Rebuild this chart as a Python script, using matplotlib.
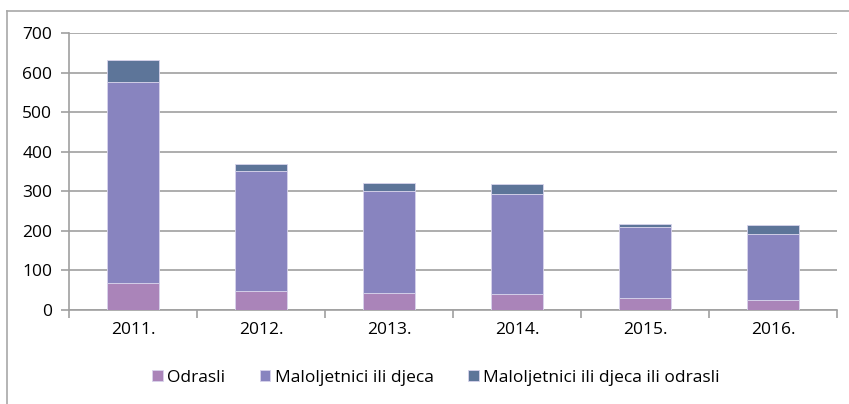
import matplotlib.pyplot as plt
import numpy as np
from matplotlib.lines import Line2D

years = ["2011.", "2012.", "2013.", "2014.", "2015.", "2016."]
odrasli = [68, 48, 43, 41, 31, 26]
maloljetnici = [508, 303, 257, 251, 180, 167]
mal_ili_odrasli = [57, 18, 21, 27, 7, 23]

labels = ["Odrasli", "Maloljetnici ili djeca", "Maloljetnici ili djeca ili odrasli"]
colors = ["#AA84B9", "#8884BF", "#5D7599"]
GRID = "#A0A0A0"

plt.rcParams["font.family"] = ["Open Sans", "DejaVu Sans"]
FS = 12.5

W, H = 849, 404
fig = plt.figure(figsize=(W / 100, H / 100), dpi=100)
ax = fig.add_axes([69 / W, 1 - 310 / H, (837 - 69) / W, (310 - 33) / H])

x = np.arange(len(years))
bottom = np.zeros(len(years))
for vals, lab, col in zip([odrasli, maloljetnici, mal_ili_odrasli], labels, colors):
    ax.bar(x, vals, width=0.4, bottom=bottom, color=col, label=lab,
           edgecolor="#D8D4EC", linewidth=0.6, zorder=3)
    bottom += np.array(vals)

ax.set_xlim(-0.5, len(years) - 0.5)
ax.set_ylim(0, 700)
ax.set_yticks(range(0, 701, 100))
ax.yaxis.grid(True, color=GRID, linewidth=1.2, zorder=0)
ax.tick_params(axis="y", length=6, color=GRID, width=1.2, labelsize=FS, pad=6)

# category boundaries as tick marks, labels centred in between
ax.set_xticks(np.arange(-0.5, len(years), 1.0))
ax.set_xticklabels([])
ax.set_xticks(x, minor=True)
ax.set_xticklabels(years, minor=True, fontsize=FS)
ax.tick_params(axis="x", which="major", length=6, color=GRID, width=1.2)
ax.tick_params(axis="x", which="minor", length=0, pad=9)

for s in ["top", "right"]:
    ax.spines[s].set_visible(False)
for s in ["left", "bottom"]:
    ax.spines[s].set_color(GRID)
    ax.spines[s].set_linewidth(1.2)

# chart frame remnants
fig.add_artist(Line2D([7 / W, 7 / W], [0, 1 - 11 / H], color="#A8A8A8", lw=1.2))
fig.add_artist(Line2D([7 / W, 1], [1 - 11 / H, 1 - 11 / H], color="#A8A8A8", lw=1.2))

ax.legend(loc="center", bbox_to_anchor=(436 / W, 1 - 378 / H), bbox_transform=fig.transFigure,
          ncol=3, frameon=False, fontsize=FS, handlelength=0.6, handleheight=0.6,
          handletextpad=0.25, columnspacing=2.0)

fig.savefig("out.png", dpi=100)
